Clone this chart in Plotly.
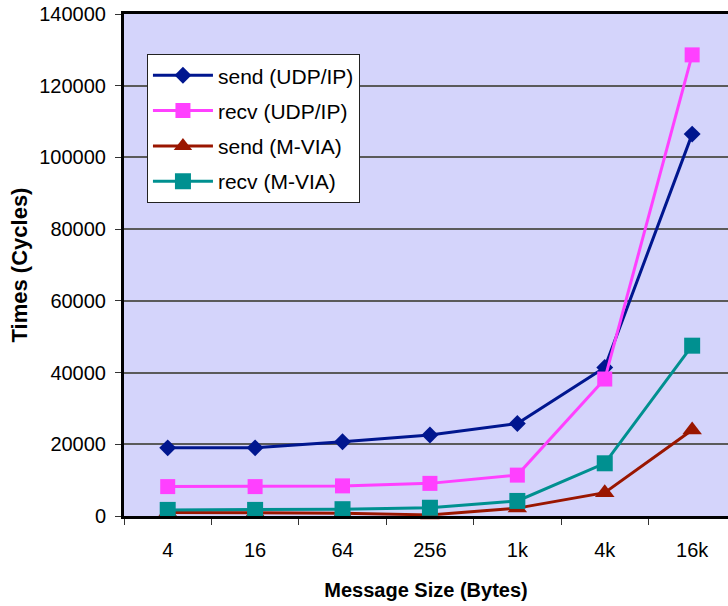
import plotly.graph_objects as go

categories = ["4", "16", "64", "256", "1k", "4k", "16k"]
send_udp = [19000, 19000, 20700, 22600, 25800, 41400, 106500]
recv_udp = [8200, 8200, 8400, 9100, 11400, 38200, 128600]
send_via = [1000, 1000, 800, 300, 2200, 6500, 24000]
recv_via = [1700, 1700, 1900, 2300, 4200, 14700, 47500]

series = [
    ("send (UDP/IP)", send_udp, "#00168F", "diamond", 13),
    ("recv (UDP/IP)", recv_udp, "#FF40FF", "square", 15),
    ("send (M-VIA)", send_via, "#9A1600", "triangle-up", 17),
    ("recv (M-VIA)", recv_via, "#009090", "square", 16),
]

xpos = list(range(len(categories)))

fig = go.Figure()
for i, (name, vals, col, sym, sz) in enumerate(series):
    fig.add_trace(go.Scatter(
        x=xpos, y=vals, name=name, mode="lines+markers",
        line=dict(color=col, width=3),
        marker=dict(color=col, symbol=sym, size=sz, line=dict(width=0)),
        legendgroup=f"g{i}", cliponaxis=False,
    ))

fig.update_layout(
    width=728, height=606,
    margin=dict(l=124, r=0, t=14, b=90),
    paper_bgcolor="white",
    plot_bgcolor="#D4D4FB",
    font=dict(family="Arial, Liberation Sans, sans-serif", size=20, color="black"),
    showlegend=True,
    legend=dict(
        x=0.038, y=0.92, xanchor="left", yanchor="top",
        bgcolor="white", bordercolor="#222222", borderwidth=1,
        font=dict(size=21), tracegroupgap=5, itemwidth=60,
    ),
    xaxis=dict(
        range=[-0.5, 6.41], automargin=False,
        tickmode="array", tickvals=xpos, ticktext=categories,
        showline=True, linecolor="black", linewidth=3, mirror=True,
        ticks="", ticklabelstandoff=14,
        minor=dict(tick0=-0.5, dtick=1, ticks="outside", ticklen=6, tickcolor="#333333", showgrid=False),
        showgrid=False, zeroline=False,
        title=dict(text="<b>Message Size (Bytes)</b>", font=dict(size=20), standoff=23),
    ),
    yaxis=dict(
        range=[0, 140000], dtick=20000, automargin=False,
        showline=True, linecolor="black", linewidth=3,
        ticks="outside", ticklen=6, tickcolor="#333333",
        ticklabelstandoff=5, ticklabeloverflow="allow",
        showgrid=True, gridcolor="#5A5A5A", gridwidth=1.5,
        tickformat="d",
        title=dict(text="<b>Times (Cycles)</b>", font=dict(size=22), standoff=6),
        zeroline=False,
    ),
)

fig.write_html("out.html", config={"displayModeBar": False},
               post_script="document.body.style.margin='0';")
